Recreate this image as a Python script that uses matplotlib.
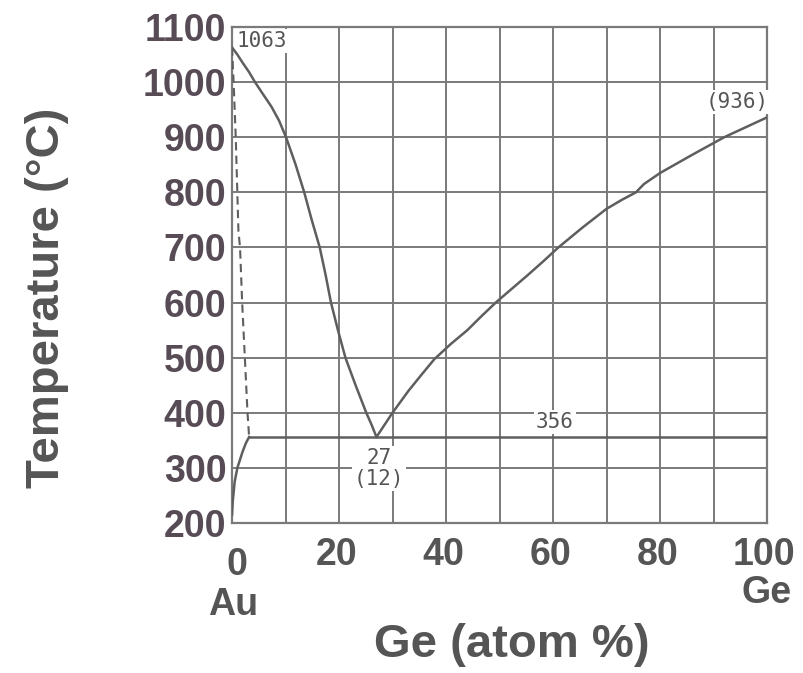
import numpy as np
import matplotlib.pyplot as plt

# Au-Ge phase diagram
# liquidus, Au side (atom % Ge, deg C)
liq_au_x = [0, 1.0, 2.0, 3.2, 4.3, 5.8, 7.4, 8.8, 10.1, 11.0, 11.9, 12.7, 13.5, 14.9, 16.4, 17.5,
            18.5, 19.8, 21.2, 23.1, 25.1, 26.1, 27.0]
liq_au_t = [1063, 1050, 1035, 1018, 1000, 978, 955, 930, 900, 875, 850, 825, 800, 750, 700, 650,
            600, 550, 500, 450, 400, 378, 356]

# liquidus, Ge side
liq_ge_x = [27.0, 28.5, 30.0, 31.5, 33.0, 35.5, 37.8, 40.8, 44.0, 46.6, 49.3, 52.3, 55.3, 58.2,
            61.0, 65.5, 70.0, 72.8, 75.5, 77.0, 80.0, 86.0, 92.0, 96.0, 100]
liq_ge_t = [356, 378, 400, 420, 440, 470, 497, 524, 550, 575, 600, 625, 650, 675,
            700, 736, 770, 786, 800, 815, 835, 868, 900, 918, 936]

# solidus of the Au solid solution (dashed)
sol_x = [0, 0.3, 0.7, 1.2, 1.5, 1.9, 2.4, 2.9, 3.2]
sol_t = [1063, 1000, 900, 730, 700, 600, 500, 400, 356]

# solvus
solv_x = [3.2, 2.6, 2.0, 1.5, 1.0, 0.5, 0.15, 0]
solv_t = [356, 345, 330, 315, 300, 275, 240, 215]

eut_t = 356
eut_x0 = 3.2

xticks = [20, 40, 60, 80, 100]
yticks = [200, 300, 400, 500, 600, 700, 800, 900, 1000, 1100]

line_c = '#5e5e5e'
grid_c = '#7a7a7a'
lab_c = '#555555'
ytick_c = '#574b55'

fig = plt.figure(figsize=(8.04, 6.73), dpi=100)
ax = fig.add_axes([232/804, 1 - 523/673, 535/804, 496/673])

ax.set_xlim(0, 100)
ax.set_ylim(200, 1100)
ax.set_xticks(np.arange(0, 101, 10))
ax.set_yticks(yticks)
ax.grid(True, color=grid_c, lw=1.4)
ax.set_axisbelow(True)
for s in ax.spines.values():
    s.set_color(grid_c)
    s.set_linewidth(1.6)

ax.set_xticklabels([])
ax.tick_params(axis='both', length=0)
ax.set_yticklabels([str(v) for v in yticks], fontsize=27, fontweight='bold',
                   color=ytick_c, family='Liberation Sans')
ax.tick_params(axis='y', pad=4)

lw = dict(color=line_c, zorder=4)
ax.plot(liq_au_x, liq_au_t, lw=1.8, **lw)
ax.plot(liq_ge_x, liq_ge_t, lw=1.8, **lw)
ax.plot(sol_x, sol_t, lw=1.5, ls=(0, (4, 2.5)), **lw)
ax.plot(solv_x, solv_t, lw=1.8, **lw)
ax.plot([eut_x0, 100], [eut_t, eut_t], lw=1.8, **lw)

# value labels
ann = dict(family='DejaVu Sans Mono', fontsize=15, color=lab_c, ha='center', va='center',
           zorder=3, bbox=dict(facecolor='white', edgecolor='none', pad=1.5))
ax.text(5.5, 1075, '1063', **ann)
ax.text(94.5, 964, '(936)', **ann)
ax.text(60.3, 383, str(eut_t), **ann)
ax.text(27.5, 299, '27\n(12)', linespacing=1.05, **ann)

# x tick labels drawn as texts so 0/Au and Ge can sit lower
tick_kw = dict(fontsize=27, fontweight='bold', color=lab_c, family='Liberation Sans',
               ha='center', va='top', transform=ax.get_xaxis_transform())
for v in xticks:
    ax.text(v - 0.5, -0.028, str(v), **tick_kw)
ax.text(1.0, -0.048, '0', **tick_kw)
ax.text(0.3, -0.13, 'Au', **tick_kw)
ax.text(100, -0.105, 'Ge', **tick_kw)

fig.text(47/804, 1 - 298/673, 'Temperature (\u00b0C)', rotation=90, ha='center', va='center',
         fontsize=34, fontweight='bold', color=lab_c, family='Liberation Sans')
fig.text(512/804, 1 - 645/673, 'Ge (atom %)', ha='center', va='center',
         fontsize=34, fontweight='bold', color=lab_c, family='Liberation Sans')

fig.savefig('out.png', dpi=100)
